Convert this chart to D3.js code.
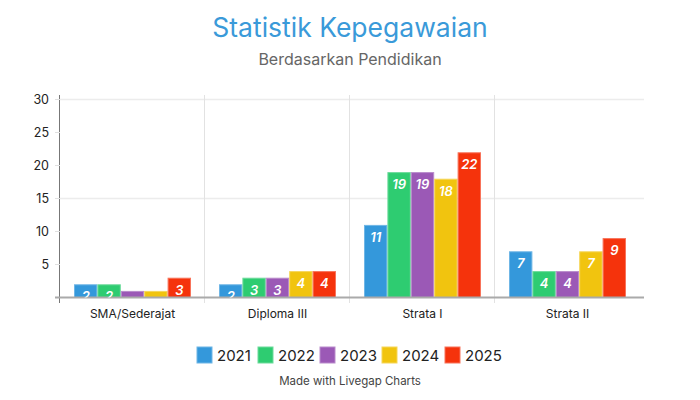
<!DOCTYPE html>
<html>
<head>
<meta charset="utf-8">
<script src="https://cdn.jsdelivr.net/npm/d3@7"></script>
<style>
  body { margin: 0; background: #fff; }
  svg { font-family: Inter, "Noto Sans", sans-serif; }
</style>
</head>
<body>
<svg class="chart" width="700" height="400"></svg>
<script>
const categories = ['SMA/Sederajat', 'Diploma III', 'Strata I', 'Strata II'];
const years = ['2021', '2022', '2023', '2024', '2025'];
const s2021 = [2, 2, 11, 7];
const s2022 = [2, 3, 19, 4];
const s2023 = [1, 3, 19, 4];
const s2024 = [1, 4, 18, 7];
const s2025 = [3, 4, 22, 9];
const yTicks = [0, 5, 10, 15, 20, 25, 30];
const gridTicks = [15, 30];

const series = [s2021, s2022, s2023, s2024, s2025];
const colors = ['#3498db', '#2ecc71', '#9b59b6', '#f1c40f', '#f5330c'];
const strokes = ['#6fb6e6', '#6ddb9b', '#b98bcb', '#f5d65a', '#f8735a'];

const svg = d3.select('.chart');
const plotLeft = 60, plotRight = 640, plotTop = 99.5, plotBottom = 297.5;

const x = d3.scaleBand().domain(categories).range([plotLeft, plotRight]);
const x1 = d3.scaleBand().domain(years).range([0, 117]);
const y = d3.scaleLinear().domain([0, 30]).range([plotBottom, plotTop]);

svg.append('clipPath').attr('id', 'plotclip')
  .append('rect')
    .attr('x', plotLeft).attr('y', 80)
    .attr('width', plotRight - plotLeft).attr('height', plotBottom - 80);

// title
svg.append('text')
    .attr('x', 350).attr('y', 37)
    .attr('text-anchor', 'middle')
    .attr('font-size', 26.5)
    .attr('fill', '#3a9ad9')
    .text('Statistik Kepegawaian');
svg.append('text')
    .attr('x', 350).attr('y', 65)
    .attr('text-anchor', 'middle')
    .attr('font-size', 16)
    .attr('fill', '#666')
    .text('Berdasarkan Pendidikan');

// grid
svg.selectAll('.grid')
    .data(gridTicks)
    .enter().append('line')
    .attr('x1', plotLeft).attr('x2', 644)
    .attr('y1', d => y(d)).attr('y2', d => y(d))
    .attr('stroke', '#ececec').attr('stroke-width', 1.5);

// band dividers
svg.selectAll('.divider')
    .data(categories.slice(1))
    .enter().append('line')
    .attr('x1', d => x(d) - 0.5).attr('x2', d => x(d) - 0.5)
    .attr('y1', 95).attr('y2', 303)
    .attr('stroke', '#e2e2e2').attr('stroke-width', 1);

// y axis
svg.append('line')
    .attr('x1', plotLeft - 0.5).attr('x2', plotLeft - 0.5)
    .attr('y1', 95).attr('y2', 303)
    .attr('stroke', '#777').attr('stroke-width', 1);
svg.selectAll('.ytick')
    .data(yTicks)
    .enter().append('line')
    .attr('x1', 55).attr('x2', plotLeft)
    .attr('y1', d => y(d)).attr('y2', d => y(d))
    .attr('stroke', '#e0e0e0');
svg.selectAll('.ylabel')
    .data(yTicks.filter(d => d > 0))
    .enter().append('text')
    .attr('x', 49).attr('y', d => y(d) + 4.5)
    .attr('text-anchor', 'end')
    .attr('font-size', 12.5)
    .attr('fill', '#222')
    .text(d => d);

// bars
series.forEach((vals, si) => {
    const yr = years[si];
    svg.selectAll('.bar' + si)
        .data(vals)
        .enter().append('rect')
        .attr('x', (d, i) => x(categories[i]) + 14 + x1(yr) + 0.5)
        .attr('y', d => y(d) + 0.5)
        .attr('width', x1.bandwidth() - 1)
        .attr('height', d => y(0) - y(d) - 0.5)
        .attr('fill', colors[si])
        .attr('stroke', strokes[si])
        .attr('stroke-width', 1);
});

// baseline
svg.append('line')
    .attr('x1', 55).attr('x2', 644)
    .attr('y1', plotBottom).attr('y2', plotBottom)
    .attr('stroke', '#aaa').attr('stroke-width', 2);

// value labels, clipped to the plot like the original
const vals = svg.append('g').attr('clip-path', 'url(#plotclip)');
series.forEach((v, si) => {
    const yr = years[si];
    vals.selectAll('.val' + si)
        .data(v)
        .enter().append('text')
        .attr('x', (d, i) => x(categories[i]) + 14 + x1(yr) + x1.bandwidth() / 2)
        .attr('y', d => y(d) + 17)
        .attr('text-anchor', 'middle')
        .attr('font-size', 13)
        .attr('font-weight', 600)
        .attr('font-style', 'italic')
        .attr('fill', '#fff')
        .text(d => d);
});

// x labels
svg.selectAll('.xlabel')
    .data(categories)
    .enter().append('text')
    .attr('x', d => x(d) + x.bandwidth() / 2)
    .attr('y', 318)
    .attr('text-anchor', 'middle')
    .attr('font-size', 12)
    .attr('fill', '#222')
    .text(d => d);

// legend
const legendX = [197, 258, 320, 382, 445];
const lg = svg.selectAll('.legend')
    .data(years)
    .enter().append('g')
    .attr('transform', (d, i) => 'translate(' + legendX[i] + ',347)');
lg.append('rect')
    .attr('width', 15).attr('height', 16)
    .attr('fill', (d, i) => colors[i])
    .attr('stroke', (d, i) => strokes[i]);
lg.append('text')
    .attr('x', 20).attr('y', 14)
    .attr('font-size', 15)
    .attr('fill', '#222')
    .text(d => d);

svg.append('text')
    .attr('x', 350).attr('y', 385)
    .attr('text-anchor', 'middle')
    .attr('font-size', 11.5)
    .attr('fill', '#444')
    .text('Made with Livegap Charts');
</script>
</body>
</html>
